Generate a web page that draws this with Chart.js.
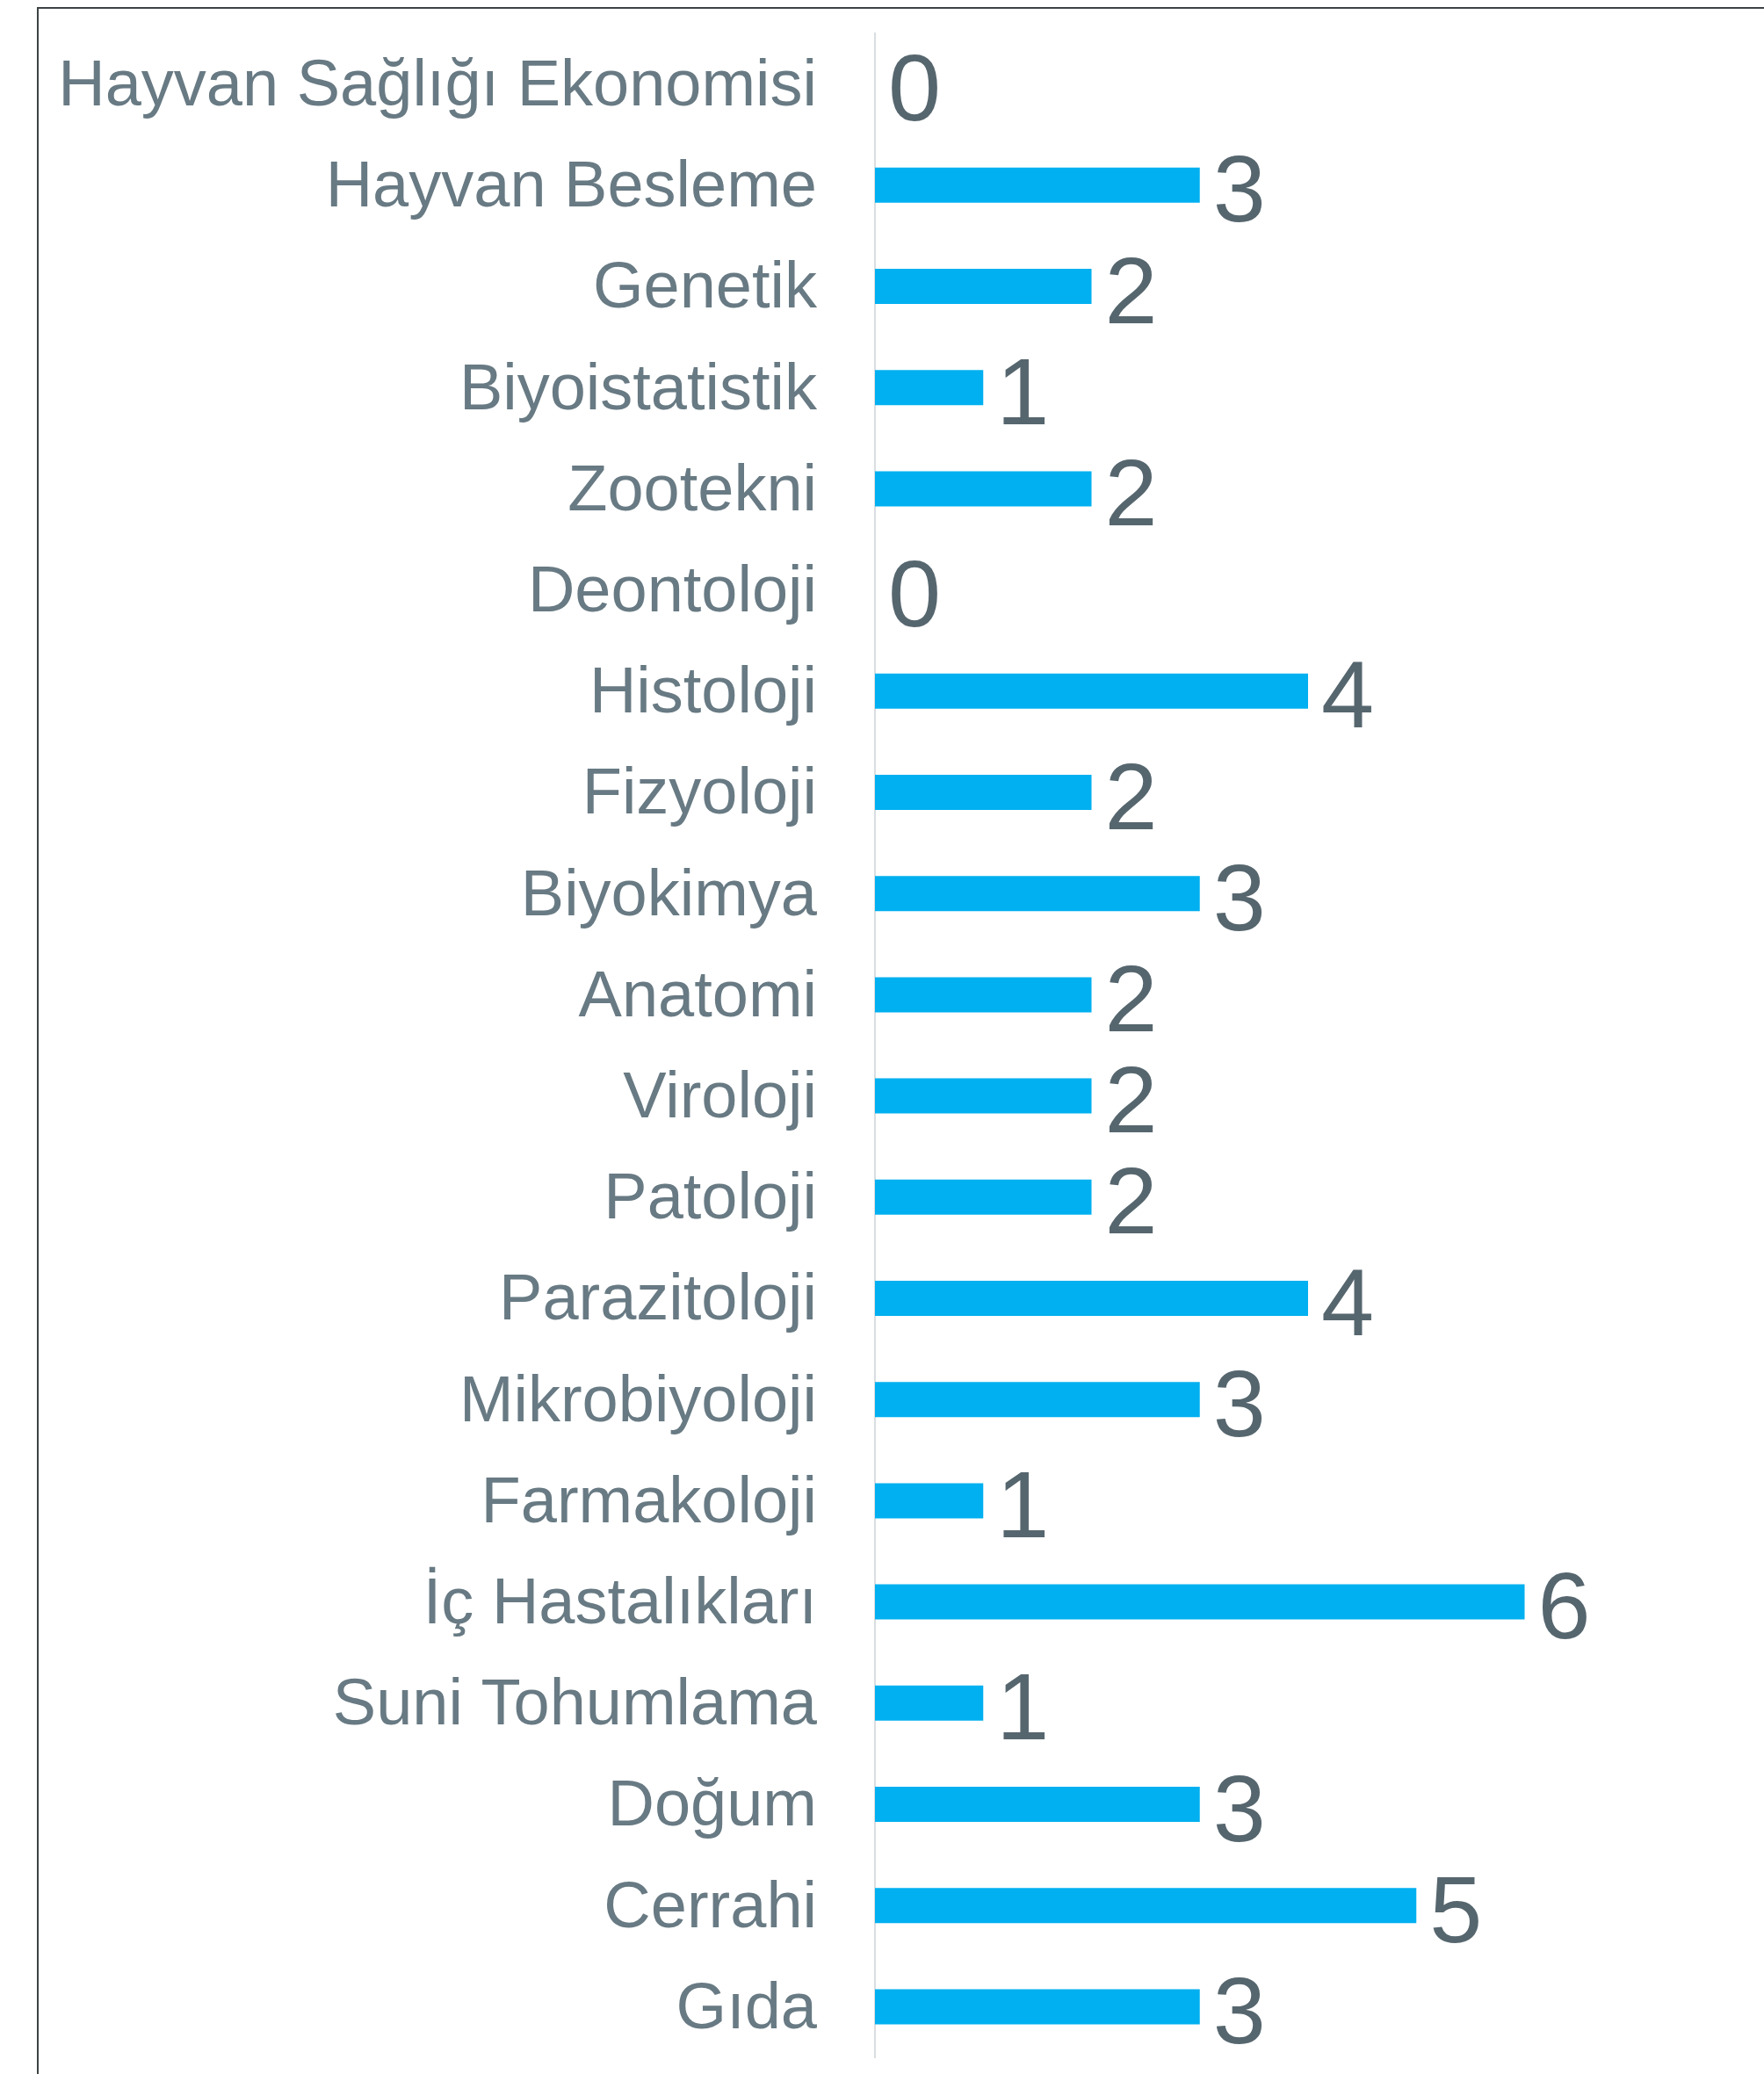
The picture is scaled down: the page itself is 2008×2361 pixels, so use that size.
<!DOCTYPE html>
<html>
<head>
<meta charset="utf-8">
<script src="https://cdn.jsdelivr.net/npm/chart.js@4.4.1/dist/chart.umd.min.js"></script>
<style>
  html, body { margin: 0; padding: 0; background: #ffffff; }
  #wrap { position: relative; width: 2008px; height: 2361px; }
  #frame { position: absolute; left: 42px; top: 8px; right: -10px; bottom: -10px;
           border-left: 2px solid #3d4245; border-top: 2px solid #3d4245; pointer-events: none; }
  canvas { position: absolute; left: 0; top: 0; }
</style>
</head>
<body>
<div id="wrap">
  <canvas id="c" width="2008" height="2361"></canvas>
  <div id="frame"></div>
</div>
<script>
const categories = [
  "Hayvan Sağlığı Ekonomisi",
  "Hayvan Besleme",
  "Genetik",
  "Biyoistatistik",
  "Zootekni",
  "Deontoloji",
  "Histoloji",
  "Fizyoloji",
  "Biyokimya",
  "Anatomi",
  "Viroloji",
  "Patoloji",
  "Parazitoloji",
  "Mikrobiyoloji",
  "Farmakoloji",
  "İç Hastalıkları",
  "Suni Tohumlama",
  "Doğum",
  "Cerrahi",
  "Gıda"
];
const counts = [0, 3, 2, 1, 2, 0, 4, 2, 3, 2, 2, 2, 4, 3, 1, 6, 1, 3, 5, 3];

const valueLabels = {
  id: 'valueLabels',
  afterDatasetsDraw(chart) {
    const ctx = chart.ctx;
    const meta = chart.getDatasetMeta(0);
    const xs = chart.scales.x;
    ctx.save();
    ctx.font = '108px "Liberation Sans", Arial, sans-serif';
    ctx.fillStyle = '#56666e';
    ctx.textAlign = 'left';
    ctx.textBaseline = 'alphabetic';
    meta.data.forEach((bar, i) => {
      const v = chart.data.datasets[0].data[i];
      const x = xs.getPixelForValue(v) + 15;
      ctx.fillText(String(v), x, bar.y + 41.5);
    });
    ctx.restore();
  }
};

new Chart(document.getElementById('c'), {
  type: 'bar',
  data: {
    labels: categories,
    datasets: [{
      data: counts,
      backgroundColor: '#00b0f0',
      borderWidth: 0,
      inflateAmount: 0,
      barThickness: 40
    }]
  },
  options: {
    indexAxis: 'y',
    responsive: false,
    animation: false,
    layout: { padding: { left: 0, right: 26, top: 38, bottom: 19 } },
    plugins: { legend: { display: false }, tooltip: { enabled: false } },
    scales: {
      x: {
        display: false,
        min: 0,
        max: 8
      },
      y: {
        afterFit(scale) {
          scale.width = 996;
          scale.paddingTop = 0;
          scale.paddingBottom = 0;
        },
        grid: { display: false, drawTicks: false },
        border: { display: true, color: '#dadee1', width: 2 },
        ticks: {
          padding: 66,
          labelOffset: 4,
          color: '#687a83',
          font: { family: '"Liberation Sans", Arial, sans-serif', size: 74 },
          autoSkip: false
        }
      }
    }
  },
  plugins: [valueLabels]
});
</script>
</body>
</html>
